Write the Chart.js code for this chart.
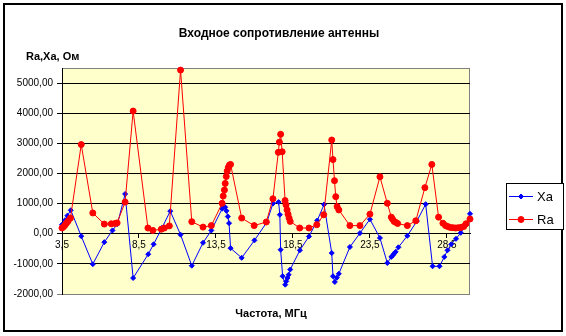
<!DOCTYPE html>
<html>
<head>
<meta charset="utf-8">
<script src="https://cdn.jsdelivr.net/npm/chart.js@4.4.0/dist/chart.umd.min.js"></script>
<style>
  body { margin: 0; background: #fff; }
</style>
</head>
<body>
<canvas id="chart" width="566" height="336"></canvas>
<script>
// reactance Xa, Ohm, at measured frequencies (MHz)
const freqXa = [3.5, 3.7, 3.85, 4.07, 4.75, 5.5, 6.25, 6.78, 7.1, 7.6, 8.12, 9.1, 9.45, 10.0, 10.53,
  11.2, 11.93, 12.66, 13.2, 13.9, 14.0, 14.1, 14.18, 14.27, 14.35, 14.45, 15.17, 16.0, 16.8, 17.2,
  17.57, 17.65, 17.7, 17.83, 18.0, 18.07, 18.14, 18.22, 18.32, 18.95, 19.54, 20.08, 20.52, 21.02,
  21.1, 21.22, 21.35, 21.48, 22.2, 22.85, 23.5, 24.15, 24.63, 24.89, 24.98, 25.07, 25.17, 25.35,
  25.93, 26.55, 27.12, 27.57, 28.02, 28.33, 28.54, 28.78, 29.09, 29.4, 29.72, 30.0]
const xa = [300, 450, 600, 780, -80, -1010, -280, 110, 320, 1320, -1470, -680, -350, 200, 750,
  -30, -1060, -300, 110, 830, 900, 880, 760, 570, 350, -480, -800, -220, 380, 1000,
  1050, 630, -530, -1410, -1690, -1580, -1470, -1360, -1190, -550, -90, 440, 970, -640,
  -1410, -1600, -1460, -1330, -440, 20, 480, -140, -970, -770, -720, -660, -600, -450,
  -70, 420, 980, -1080, -1080, -770, -550, -350, -170, 30, 270, 660]

// resistance Ra, Ohm
const freqRa = [3.5, 3.6, 3.7, 3.8, 3.9, 4.05, 4.75, 5.5, 6.25, 6.7, 6.95, 7.08, 7.6, 8.12, 9.08,
  9.4, 9.95, 10.15, 10.47, 11.2, 11.93, 12.66, 13.2, 13.9, 13.97, 14.05, 14.1, 14.17, 14.23, 14.3,
  14.38, 14.45, 15.17, 15.98, 16.77, 17.2, 17.55, 17.62, 17.7, 17.8, 17.99, 18.05, 18.12, 18.18,
  18.25, 18.32, 18.94, 19.54, 20.05, 20.5, 21.02, 21.1, 21.2, 21.28, 21.37, 21.48, 22.2, 22.85,
  23.5, 24.15, 24.63, 24.89, 24.96, 25.07, 25.17, 25.3, 25.93, 26.48, 27.07, 27.52, 27.96, 28.24,
  28.41, 28.55, 28.72, 28.9, 29.07, 29.24, 29.42, 29.59, 29.74, 30.0]
const ra = [190, 230, 290, 360, 420, 520, 2960, 690, 320, 330, 340, 360, 1050, 4070, 190,
  110, 150, 190, 260, 5430, 400, 220, 270, 1010, 1250, 1450, 1670, 1900, 2080, 2200,
  2280, 2300, 520, 270, 390, 1160, 2700, 3040, 3300, 2720, 1100, 960, 790, 650,
  520, 410, 190, 190, 300, 630, 3110, 2460, 1760, 1230, 900, 790, 270, 270,
  650, 1890, 1010, 550, 490, 410, 380, 340, 270, 430, 1530, 2300, 550, 350,
  270, 240, 210, 200, 190, 200, 210, 240, 330, 490]

const xTicks = [3.5, 8.5, 13.5, 18.5, 23.5, 28.5]
const yTicks = [-2000, -1000, 0, 1000, 2000, 3000, 4000, 5000]
const seriesNames = ['Xa', 'Ra']
const chartTitle = 'Входное сопротивление антенны'
const yTitle = 'Ra,Xa, Ом'
const xTitle = 'Частота, МГц'

const fontFamily = 'Arial, "Liberation Sans", sans-serif'
Chart.defaults.font.family = fontFamily
Chart.defaults.color = '#000'

const toPoints = (fs, vs) => fs.map((f, i) => ({ x: f, y: vs[i] }))
const comma = (v, d) => v.toFixed(d).replace('.', ',')

// background, plot frame, titles and legend box
const frame = {
  id: 'frame',
  beforeDraw(chart) {
    const { ctx, chartArea: a } = chart
    ctx.save()
    ctx.fillStyle = '#fff'
    ctx.fillRect(0, 0, chart.width, chart.height)
    ctx.fillStyle = '#FFFFCC'
    ctx.fillRect(a.left, a.top, a.right - a.left, a.bottom - a.top)
    ctx.strokeStyle = '#808080'
    ctx.lineWidth = 1
    ctx.strokeRect(a.left + 0.5, a.top + 0.5, a.right - a.left - 1, a.bottom - a.top)
    ctx.restore()
  },
  afterDraw(chart) {
    const { ctx } = chart
    ctx.save()
    ctx.strokeStyle = '#000'
    ctx.lineWidth = 2
    ctx.strokeRect(4, 4, 558, 327)

    ctx.fillStyle = '#000'
    ctx.textBaseline = 'alphabetic'
    ctx.textAlign = 'center'
    ctx.font = 'bold 12px ' + fontFamily
    ctx.fillText(chartTitle, 279, 37)
    ctx.font = 'bold 11px ' + fontFamily
    ctx.fillText(xTitle, 271, 317)
    ctx.textAlign = 'left'
    ctx.fillText(yTitle, 26, 60)

    // legend
    const lx = 506, ly = 183, lw = 57, lh = 46
    ctx.lineWidth = 1
    ctx.fillStyle = '#fff'
    ctx.fillRect(lx, ly, lw, lh)
    ctx.strokeStyle = '#000'
    ctx.strokeRect(lx + 0.5, ly + 0.5, lw, lh)
    ctx.font = '13px ' + fontFamily
    ctx.textBaseline = 'middle'
    chart.data.datasets.forEach((ds, i) => {
      const y = ly + 13.5 + i * 23
      ctx.strokeStyle = ds.borderColor
      ctx.fillStyle = ds.backgroundColor
      ctx.beginPath()
      ctx.moveTo(lx + 3, y)
      ctx.lineTo(lx + 27, y)
      ctx.stroke()
      Chart.helpers.drawPoint(ctx, {
        pointStyle: ds.pointStyle, radius: ds.pointRadius, borderWidth: 1
      }, lx + 15, y)
      ctx.fillStyle = '#000'
      ctx.fillText(ds.label, lx + 31, y + 1)
    })
    ctx.restore()
  }
}

const ctx = document.getElementById('chart')
const chart = new Chart(ctx, {
  type: 'scatter',
  data: {
    datasets: [{
      label: seriesNames[0],
      data: toPoints(freqXa, xa),
      showLine: true,
      borderColor: '#0000FF',
      backgroundColor: '#0000FF',
      borderWidth: 1,
      pointStyle: 'rectRot',
      pointRadius: 2.5,
      pointBorderWidth: 1,
      order: 1,
      clip: false
    }, {
      label: seriesNames[1],
      data: toPoints(freqRa, ra),
      showLine: true,
      borderColor: '#FF0000',
      backgroundColor: '#FF0000',
      borderWidth: 1,
      pointStyle: 'circle',
      pointRadius: 3,
      pointBorderWidth: 1,
      order: 0,
      clip: false
    }]
  },
  options: {
    responsive: false,
    animation: false,
    events: [],
    layout: { padding: { left: 0, top: 68, right: 96, bottom: 42 } },
    plugins: { legend: { display: false }, tooltip: { enabled: false } },
    scales: {
      x: {
        type: 'linear',
        position: { y: 0 },
        min: 3.5,
        max: 30,
        afterBuildTicks: (scale) => { scale.ticks = xTicks.map(v => ({ value: v })) },
        grid: { drawOnChartArea: false, drawTicks: true, tickLength: 4, color: '#000' },
        border: { color: '#000' },
        ticks: {
          padding: 2,
          maxRotation: 0,
          autoSkip: false,
          font: { size: 10 },
          callback: (v) => comma(v, 1)
        }
      },
      y: {
        min: -2000,
        max: 5500,
        afterBuildTicks: (scale) => { scale.ticks = yTicks.map(v => ({ value: v })) },
        afterFit: (scale) => { scale.width = 62 },
        grid: {
          color: (c) => (c.tick && c.tick.value === -2000 ? '#808080' : '#000'),
          tickLength: 5
        },
        border: { color: '#000' },
        ticks: {
          padding: 4,
          font: { size: 10 },
          callback: (v) => comma(v, 2)
        }
      }
    }
  },
  plugins: [frame]
})
</script>
</body>
</html>
